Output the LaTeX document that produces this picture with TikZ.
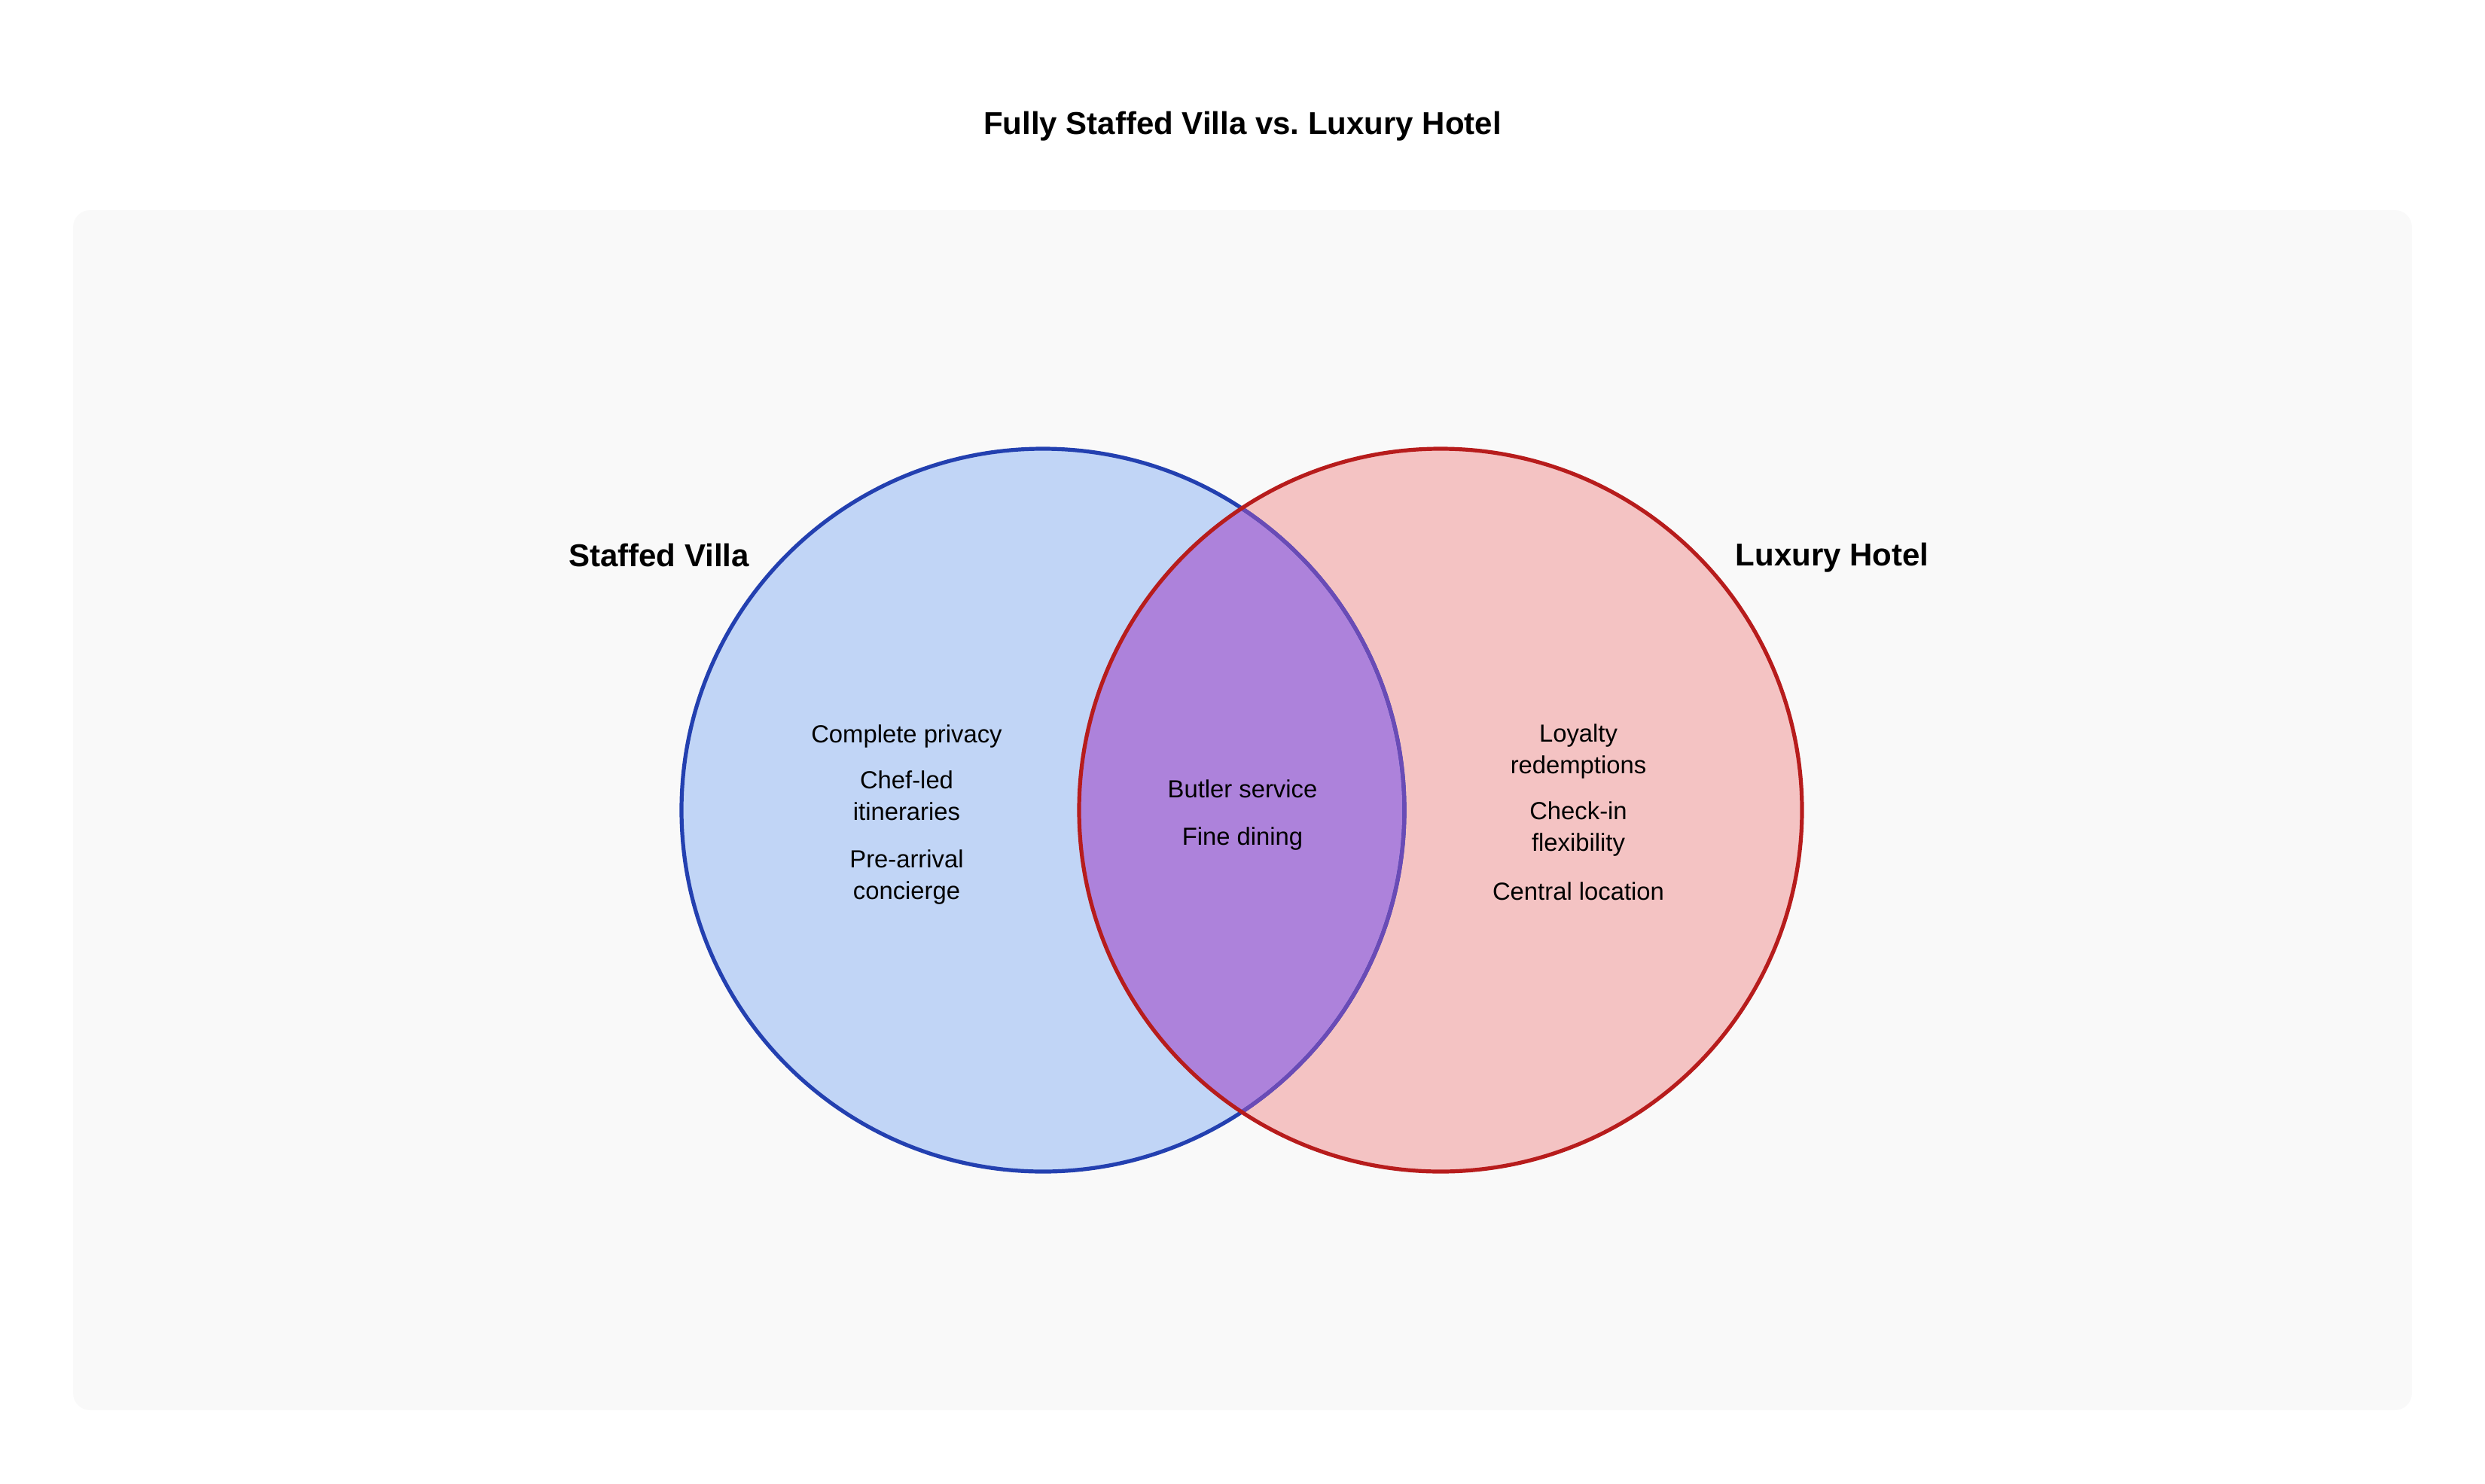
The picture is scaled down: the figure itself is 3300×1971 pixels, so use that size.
\documentclass[tikz,border=0pt]{standalone}
\usepackage{fontspec}
\setmainfont{Liberation Sans}
\frenchspacing
\definecolor{bgpanel}{HTML}{F9F9F9}
\definecolor{villafill}{HTML}{C1D5F6}
\definecolor{villaline}{HTML}{2340B0}
\definecolor{hotelfill}{HTML}{F4C3C3}
\definecolor{hotelline}{HTML}{B71C1C}
\definecolor{bothfill}{HTML}{AD82DB}
\definecolor{bothline}{HTML}{6A4BB6}
\begin{document}
\begin{tikzpicture}[x=0.25pt,y=-0.25pt,
  setlabel/.style={font=\fontsize{10.5pt}{12pt}\selectfont\bfseries, inner sep=0pt},
  titlelabel/.style={font=\fontsize{10.5pt}{12pt}\selectfont\bfseries, inner sep=0pt},
  item/.style={font=\fontsize{8.2pt}{10.5pt}\selectfont, align=center, inner sep=0pt},
  setcircle/.style={circle, minimum size=240pt, inner sep=0pt}]
\useasboundingbox (0,0) rectangle (3300,1971);
\fill[white] (0,0) rectangle (3300,1971);
\fill[bgpanel, rounded corners=5.75pt] (97,279) rectangle (3203,1873);
\node[titlelabel] (title) at (1650,168) {Fully Staffed Villa vs. Luxury Hotel};
% circles
\node[setcircle, fill=villafill] (villa) at (1385,1076) {};
\node[setcircle, fill=hotelfill] (hotel) at (1913,1076) {};
\begin{scope}
  \clip (villa.center) circle[radius=120pt];
  \fill[bothfill] (hotel.center) circle[radius=120pt];
\end{scope}
\draw[villaline, line width=1.3pt] (villa.center) circle[radius=120pt];
\begin{scope}
  \clip (hotel.center) circle[radius=120pt];
  \draw[bothline, line width=1.3pt] (villa.center) circle[radius=120pt];
\end{scope}
\draw[hotelline, line width=1.3pt] (hotel.center) circle[radius=120pt];
% set labels
\node[setlabel] (villalabel) at (875,737) {Staffed Villa};
\node[setlabel] (hotellabel) at (2433,741) {Luxury Hotel};
% villa only
\node[item] (v1) at (1204,978) {Complete privacy};
\node[item] (v2) at (1204,1057) {Chef-led\\itineraries};
\node[item] (v3) at (1204,1165) {Pre-arrival\\concierge};
% both
\node[item] (b1) at (1650,1048) {Butler service};
\node[item] (b2) at (1650,1114) {Fine dining};
% hotel only
\node[item] (h1) at (2096,998) {Loyalty\\redemptions};
\node[item] (h2) at (2096,1101) {Check-in\\flexibility};
\node[item] (h3) at (2096,1184) {Central location};
\end{tikzpicture}
\end{document}
